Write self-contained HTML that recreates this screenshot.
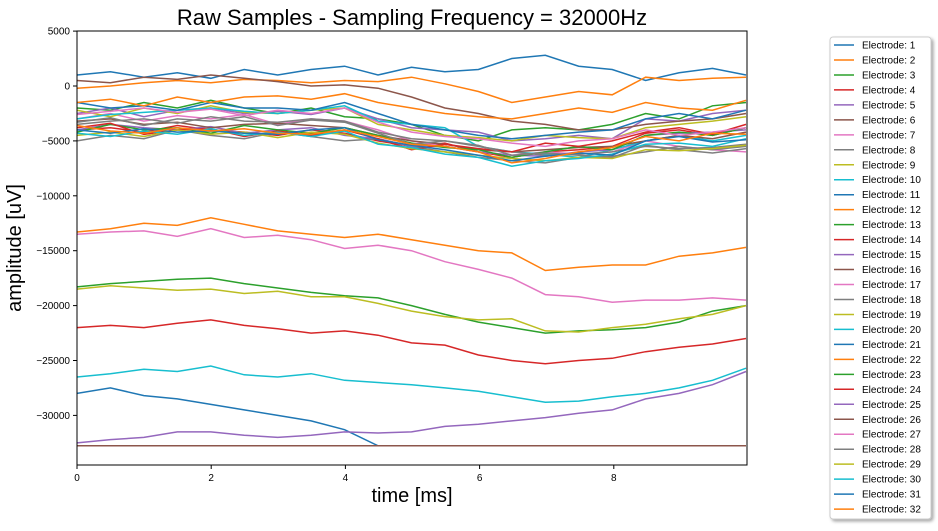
<!DOCTYPE html>
<html><head><meta charset="utf-8"><style>
body{margin:0;background:#fff;font-family:"Liberation Sans","DejaVu Sans",sans-serif}
</style></head><body>
<svg id="chart" width="938" height="526" xmlns="http://www.w3.org/2000/svg" font-family="Liberation Sans, DejaVu Sans, sans-serif">
<defs><clipPath id="plotclip"><rect x="77" y="31" width="670" height="434"/></clipPath>
<filter id="sh" x="-10%" y="-10%" width="130%" height="130%"><feDropShadow dx="2" dy="2" stdDeviation="1.5" flood-color="#000" flood-opacity="0.35"/></filter></defs>
<text x="412" y="25" text-anchor="middle" font-size="22">Raw Samples - Sampling Frequency = 32000Hz</text>
<g id="series" clip-path="url(#plotclip)"></g>
<rect x="77" y="31" width="670" height="434" fill="none" stroke="#000" stroke-width="1"/>
<g id="axes"></g>
<text x="412" y="502" text-anchor="middle" font-size="20">time [ms]</text>
<text transform="translate(21,248) rotate(-90)" text-anchor="middle" font-size="20">amplitude [uV]</text>
<g filter="url(#sh)"><rect x="830" y="37" width="101" height="482" rx="3" fill="#fff" stroke="#ccc"/></g>
<g id="legend"></g>
</svg>
<script>
const xTicks=[0,2,4,6,8];
const yTicks=[5000,0,-5000,-10000,-15000,-20000,-25000,-30000];
const tEnd=9.97;
const s1=[1000,1300,800,1200,700,1500,1000,1500,1800,1000,1700,1300,1500,2500,2800,1800,1500,500,1200,1600,1000];
const s2=[-200,0,300,500,300,600,500,300,500,400,800,200,-500,-1500,-1000,-500,-800,800,500,700,800];
const s3=[-2000,-2200,-1500,-2000,-1300,-2000,-2500,-2000,-2800,-3000,-3500,-4500,-5000,-4000,-3800,-4000,-3500,-2500,-3000,-1800,-1500];
const s4=[-4000,-3800,-4200,-3600,-4000,-4200,-4500,-4000,-4300,-5000,-5500,-5200,-6000,-6500,-6000,-5800,-5500,-4300,-4000,-4500,-3800];
const s5=[-2500,-2000,-2800,-2200,-2000,-2500,-2300,-2600,-2000,-3000,-3800,-4000,-4200,-5000,-4800,-4500,-4800,-3000,-3200,-2500,-2200];
const s6=[500,300,800,600,1000,700,400,0,100,-200,-1000,-2000,-2500,-3200,-3500,-4000,-4000,-3500,-3200,-3000,-2500];
const s7=[-3000,-2500,-3200,-2700,-3000,-2600,-3500,-3000,-3200,-4000,-5000,-5500,-6000,-6300,-6000,-6200,-6000,-5000,-5500,-5800,-6000];
const s8=[-5000,-4500,-4800,-4000,-4500,-4800,-4200,-4600,-5000,-4800,-5500,-6000,-6500,-6800,-7000,-6500,-6400,-6000,-5500,-5800,-5500];
const s9=[-2200,-2800,-2000,-2500,-1800,-2400,-2500,-2200,-2000,-3500,-4000,-4500,-4700,-5000,-4500,-4700,-4800,-3800,-3500,-3200,-2800];
const s10=[-3000,-2600,-2400,-2200,-2000,-2300,-2500,-2200,-1800,-3200,-3500,-3800,-5500,-6000,-6200,-6500,-5800,-5000,-4500,-5000,-4500];
const s11=[-1500,-2000,-1800,-2200,-1500,-2000,-2000,-2200,-1500,-2500,-3500,-4000,-4500,-4800,-4500,-4200,-4000,-3000,-2500,-3000,-2200];
const s12=[-13300,-13000,-12500,-12700,-12000,-12600,-13200,-13500,-13800,-13500,-14000,-14500,-15000,-15200,-16800,-16500,-16300,-16300,-15500,-15200,-14700];
const s13=[-18300,-18000,-17800,-17600,-17500,-18000,-18400,-18800,-19100,-19300,-20000,-20800,-21500,-22000,-22500,-22300,-22200,-22000,-21500,-20500,-20000];
const s14=[-22000,-21800,-22000,-21600,-21300,-21800,-22100,-22500,-22300,-22700,-23400,-23600,-24500,-25000,-25300,-25000,-24800,-24200,-23800,-23500,-23000];
const s15=[-4000,-3500,-3800,-4000,-3700,-4300,-4000,-3800,-4500,-4800,-5500,-5500,-6000,-6300,-6400,-6000,-5800,-4500,-4300,-4200,-4000];
const s16=[-3200,-3000,-3500,-3300,-3800,-3500,-3400,-3600,-3800,-4500,-5000,-5300,-5800,-6000,-5800,-5600,-5500,-5000,-4500,-4800,-4200];
const s17=[-13500,-13300,-13200,-13700,-13000,-13800,-13600,-14000,-14800,-14500,-15000,-16000,-16700,-17500,-19000,-19200,-19700,-19500,-19500,-19300,-19500];
const s18=[-3500,-3200,-3000,-3400,-2800,-3200,-3300,-3000,-3200,-4200,-4800,-5000,-5500,-6000,-6300,-6200,-6000,-5500,-5700,-5600,-5300];
const s19=[-18500,-18200,-18400,-18600,-18500,-18900,-18700,-19200,-19200,-19800,-20500,-21000,-21300,-21200,-22300,-22400,-22000,-21700,-21200,-20800,-20000];
const s20=[-26500,-26200,-25800,-26000,-25500,-26300,-26500,-26200,-26800,-27000,-27200,-27500,-27800,-28300,-28800,-28700,-28300,-28000,-27500,-26800,-25700];
const s21=[-28000,-27500,-28200,-28500,-29000,-29500,-30000,-30500,-31300,-32768,-32768,-32768,-32768,-32768,-32768,-32768,-32768,-32768,-32768,-32768,-32768];
const s22=[-1500,-1200,-1800,-1000,-1500,-1000,-900,-1200,-700,-1500,-2000,-2500,-2800,-3000,-2500,-2000,-2400,-1500,-2000,-2200,-1300];
const s23=[-4200,-3500,-4000,-3800,-4300,-3600,-4000,-4300,-3800,-4500,-5200,-5600,-5800,-6500,-6000,-5500,-5800,-4500,-4200,-4500,-3800];
const s24=[-3800,-3400,-4400,-4000,-3900,-4600,-4100,-4500,-4000,-4800,-5800,-5300,-5700,-6000,-5200,-5500,-5000,-4200,-3800,-4400,-3500];
const s25=[-32500,-32200,-32000,-31500,-31500,-31800,-32000,-31800,-31500,-31600,-31500,-31000,-30800,-30500,-30200,-29800,-29500,-28500,-28000,-27200,-26000];
const s26=[-32768,-32768,-32768,-32768,-32768,-32768,-32768,-32768,-32768,-32768,-32768,-32768,-32768,-32768,-32768,-32768,-32768,-32768,-32768,-32768,-32768];
const s27=[-2600,-2300,-2000,-2400,-2100,-2700,-2200,-2500,-2000,-3300,-4200,-4600,-4800,-5200,-5500,-5000,-4800,-4000,-4500,-4200,-3800];
const s28=[-3300,-2900,-3600,-3000,-3200,-2800,-3600,-3100,-3300,-4300,-5300,-5000,-5400,-6300,-6100,-6300,-6500,-5400,-5800,-6100,-5700];
const s29=[-4500,-4200,-4600,-4000,-4400,-4200,-4700,-4200,-4400,-5200,-5700,-6000,-6300,-6600,-6800,-6500,-6600,-5800,-5900,-5700,-5400];
const s30=[-4300,-4600,-4100,-4400,-3900,-4500,-4200,-4600,-4100,-5300,-5600,-6200,-6500,-7300,-6800,-6600,-6200,-5300,-5200,-5500,-4800];
const s31=[-4000,-4300,-3900,-4200,-4100,-4300,-4400,-4000,-3800,-4900,-5400,-5800,-6300,-6800,-6400,-6100,-6300,-5000,-4600,-5100,-4900];
const s32=[-3600,-4100,-4300,-3800,-4100,-3900,-4300,-4400,-4000,-4600,-5300,-5500,-6000,-7000,-6600,-6000,-5600,-4600,-5000,-4300,-4400];
const seriesList=[s1,s2,s3,s4,s5,s6,s7,s8,s9,s10,s11,s12,s13,s14,s15,s16,s17,s18,s19,s20,s21,s22,s23,s24,s25,s26,s27,s28,s29,s30,s31,s32];
const colors=["#1f77b4","#ff7f0e","#2ca02c","#d62728","#9467bd","#8c564b","#e377c2","#7f7f7f","#bcbd22","#17becf"];
const NS="http://www.w3.org/2000/svg";
function xs(t){return 77+t*67.1;}
function ys(v){return 86-v*54.9/5000;}
const g=document.getElementById('series');
seriesList.forEach((arr,i)=>{
  const n=arr.length;
  const pts=arr.map((v,j)=>xs(j*tEnd/(n-1)).toFixed(1)+","+ys(v).toFixed(1)).join(" ");
  const pl=document.createElementNS(NS,'polyline');
  pl.setAttribute('points',pts);
  pl.setAttribute('fill','none');
  pl.setAttribute('stroke',colors[i%10]);
  pl.setAttribute('stroke-width','1.5');
  
  
  g.appendChild(pl);
});
const ax=document.getElementById('axes');
xTicks.forEach(t=>{
  const x=xs(t);
  const l=document.createElementNS(NS,'line');
  l.setAttribute('x1',x);l.setAttribute('x2',x);l.setAttribute('y1',465);l.setAttribute('y2',469);l.setAttribute('stroke','#000');
  
  
  ax.appendChild(l);
  const tx=document.createElementNS(NS,'text');
  tx.setAttribute('x',x);tx.setAttribute('y',481);tx.setAttribute('text-anchor','middle');tx.setAttribute('font-size','10');
  tx.textContent=t;
  
  
  ax.appendChild(tx);
});
yTicks.forEach(v=>{
  const y=ys(v);
  const l=document.createElementNS(NS,'line');
  l.setAttribute('x1',73);l.setAttribute('x2',77);l.setAttribute('y1',y);l.setAttribute('y2',y);l.setAttribute('stroke','#000');
  
  
  ax.appendChild(l);
  const tx=document.createElementNS(NS,'text');
  tx.setAttribute('x',70);tx.setAttribute('y',y+3.5);tx.setAttribute('text-anchor','end');tx.setAttribute('font-size','10');
  tx.textContent=(v<0?"\u2212"+(-v):v);
  
  
  ax.appendChild(tx);
});
const lg=document.getElementById('legend');
seriesList.forEach((arr,i)=>{
  const y=45+i*14.97;
  const gg=document.createElementNS(NS,'g');
  
  
  const l=document.createElementNS(NS,'line');
  l.setAttribute('x1',834);l.setAttribute('x2',854);l.setAttribute('y1',y);l.setAttribute('y2',y);
  l.setAttribute('stroke',colors[i%10]);l.setAttribute('stroke-width','1.5');
  gg.appendChild(l);
  const tx=document.createElementNS(NS,'text');
  tx.setAttribute('x',862);tx.setAttribute('y',y+3.5);tx.setAttribute('font-size','10');
  tx.textContent='Electrode: '+(i+1);
  gg.appendChild(tx);
  lg.appendChild(gg);
});
</script>
</body></html>
